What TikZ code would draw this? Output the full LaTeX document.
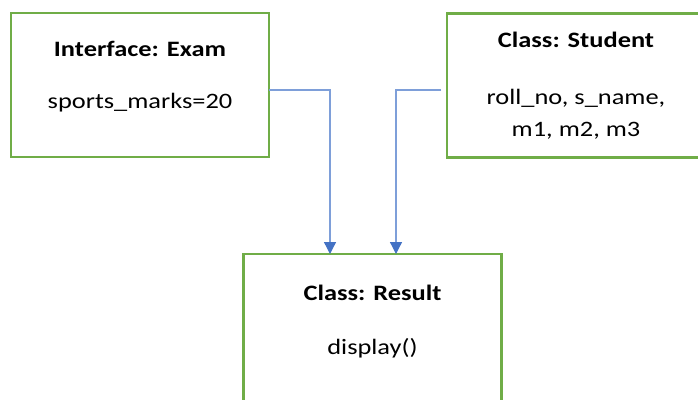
\documentclass[tikz,border=0pt]{standalone}
\usepackage{fontspec}
\setmainfont{Carlito}
\usetikzlibrary{arrows.meta}
\definecolor{boxgreen}{HTML}{70AD47}
\definecolor{linkblue}{HTML}{4472C4}
\definecolor{linkline}{HTML}{7E9FD9}
% wide-set text, as the boxes show it
\newcommand{\widetext}[1]{\scalebox{1.2}[1]{#1}}
\begin{document}
\begin{tikzpicture}[x=1pt,y=-1pt,
  classbox/.style={draw=boxgreen,line width=2.6pt,minimum width=258pt,minimum height=144pt,inner sep=0pt,outer sep=0pt},
  title/.style={font=\fontsize{22}{26}\selectfont\bfseries,inner sep=0pt,anchor=base},
  body/.style={font=\fontsize{22}{26}\selectfont,inner sep=0pt,anchor=base},
  link/.style={draw=linkline,line width=1.3pt,-{Triangle[width=12pt,length=12pt,color=linkblue]}}]
\useasboundingbox (0,0) rectangle (698,399);
\clip (0,0) rectangle (698,399);
% the three classes
\node[classbox] (exam) at (140,85) {};
\node[classbox] (student) at (576,85.5) {};
\node[classbox,minimum height=180pt] (result) at (372.5,344) {};
% their contents
\node[title] (examT) at (140,56) {\widetext{Interface: Exam}};
\node[body] (examB) at (140,108) {\widetext{sports\_marks=20}};
\node[title] (studentT) at (576,47) {\widetext{Class: Student}};
\node[body] (studentB1) at (576,104) {\widetext{roll\_no, s\_name,}};
\node[body] (studentB2) at (576,136) {\widetext{m1, m2, m3}};
\node[title] (resultT) at (372.5,300) {\widetext{Class: Result}};
\node[body] (resultB) at (372.5,354) {\widetext{display()}};
% links into Result
\draw[link] ([yshift=-5pt]exam.east) -| ([xshift=-42.5pt]result.north);
\draw[link] ([xshift=-6pt,yshift=-4.5pt]student.west) -| ([xshift=23.5pt]result.north);
\end{tikzpicture}
\end{document}
